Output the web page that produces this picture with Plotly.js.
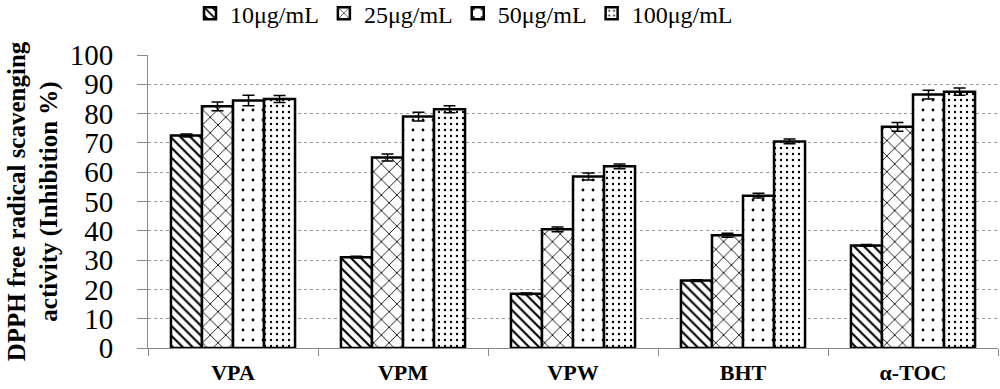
<!DOCTYPE html>
<html><head><meta charset="utf-8">
<script src="https://cdn.plot.ly/plotly-3.0.1.min.js"></script>
<style>html,body{margin:0;padding:0;background:#fff;}</style>
</head><body>
<div id="chart" style="width:1000px;height:389px;"></div>
<script>
const categories = ["VPA", "VPM", "VPW", "BHT", "α-TOC"];
const seriesNames = ["10μg/mL", "25μg/mL", "50μg/mL", "100μg/mL"];
const s10 = [72.5, 31, 18.5, 23, 35];
const s25 = [82.5, 65, 40.5, 38.5, 75.5];
const s50 = [84.5, 79, 58.5, 52, 86.5];
const s100 = [85, 81.5, 62, 70.5, 87.5];
const e10 = [0.5, 0.3, 0.3, 0.3, 0.3];
const e25 = [1.5, 1.2, 0.8, 0.7, 1.5];
const e50 = [1.8, 1.5, 1.2, 0.8, 1.5];
const e100 = [1.2, 1.2, 0.8, 0.8, 1.2];
const yTicks = [0,10,20,30,40,50,60,70,80,90,100];

const values = [s10, s25, s50, s100];
const errors = [e10, e25, e50, e100];
const patterns = [
  {shape: "\\", size: 7, solidity: 0.3},
  {shape: "x", size: 11, solidity: 0.15},
  {shape: ".", size: 10, solidity: 0.06},
  {shape: ".", size: 6, solidity: 0.12}
];
const data = values.map((v, i) => ({
  type: "bar",
  name: seriesNames[i],
  x: categories,
  y: v,
  error_y: {type: "data", array: errors[i], visible: true, color: "#000", thickness: 1.5, width: 6},
  marker: {
    color: "#fff",
    line: {color: "#000", width: 2.5},
    pattern: Object.assign({fgcolor: "#000", bgcolor: "#fff", fillmode: "replace"}, patterns[i])
  }
}));

const layout = {
  width: 1000, height: 389,
  margin: {l: 148, r: 2, t: 55, b: 41, autoexpand: false},
  paper_bgcolor: "#fff", plot_bgcolor: "#fff",
  barmode: "group", bargap: 0.27, bargroupgap: 0,
  font: {family: "Liberation Serif, Times New Roman, serif", color: "#000"},
  showlegend: true,
  legend: {orientation: "h", x: 0.19, xref: "container", xanchor: "left",
           y: 0.965, yref: "container", yanchor: "middle",
           font: {size: 24, family: "Liberation Serif, serif"}, itemwidth: 30, tracegroupgap: 0},
  xaxis: {
    showline: true, linecolor: "#888", linewidth: 1, automargin: false,
    ticks: "outside", tickson: "boundaries", ticklen: 7, tickcolor: "#888",
    ticklabelstandoff: 5,
    tickfont: {size: 22, family: "Liberation Serif, serif", weight: "bold"},
    showgrid: false
  },
  yaxis: {
    range: [0, 100], tickvals: yTicks, automargin: false,
    showline: true, linecolor: "#888", linewidth: 1,
    ticks: "outside", ticklen: 10, tickcolor: "#888",
    ticklabelstandoff: 18,
    tickfont: {size: 29, family: "Liberation Serif, serif"},
    showgrid: true, gridcolor: "#999", griddash: "3px,3px", gridwidth: 1,
    zeroline: false,
    title: {text: "<b>DPPH free radical scavenging<br>activity (Inhibition %)</b>",
            font: {size: 25, family: "Liberation Serif, serif"}, standoff: 4}
  }
};
Plotly.newPlot("chart", data, layout, {staticPlot: true});
</script>
</body></html>
